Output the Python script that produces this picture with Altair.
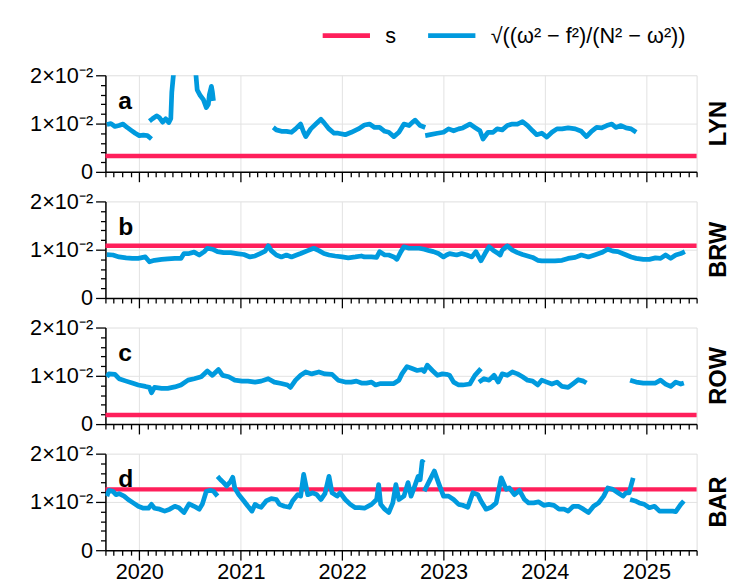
import altair as alt
import pandas as pd

RED = "#FF1F5B"
BLUE = "#009ADE"
FORMULA = "√((ω² − f²)/(N² − ω²))"
FONT = "Liberation Sans"

STATIONS = ["LYN", "BRW", "ROW", "BAR"]
LETTERS = ["a", "b", "c", "d"]
S_VALUES = [0.0033, 0.0108, 0.0019, 0.0126]

# decimal years / values, None marks a gap between segments
LYN_T = [2019.68, 2019.72, 2019.76, 2019.80, 2019.84, 2019.88, 2019.92, 2019.96, 2020.00, 2020.04, 2020.08, 2020.12, None,
         2020.10, 2020.13, 2020.17, 2020.20, 2020.23, 2020.26, 2020.29, 2020.31, 2020.32, 2020.34, 2020.38, 2020.45, 2020.50,
         2020.55, 2020.57, 2020.60, 2020.63, 2020.66, 2020.68, 2020.69, 2020.71, 2020.72, 2020.73, None,
         2021.32, 2021.35, 2021.40, 2021.45, 2021.50, 2021.54, 2021.59, 2021.62, 2021.64, 2021.69, 2021.74, 2021.79, 2021.82,
         2021.87, 2021.92, 2021.96, 2022.03, 2022.09, 2022.16, 2022.22, 2022.27, 2022.32, 2022.37, 2022.42, 2022.46, 2022.51,
         2022.56, 2022.61, 2022.66, 2022.69, 2022.72, 2022.77, 2022.82, None,
         2022.82, 2022.87, 2022.94, 2023.00, 2023.05, 2023.10, 2023.15, 2023.19, 2023.26, 2023.31, 2023.36, 2023.39, 2023.44,
         2023.49, 2023.53, 2023.58, 2023.63, 2023.68, 2023.73, 2023.78, 2023.83, 2023.88, 2023.92, 2023.97, 2024.02, 2024.07,
         2024.12, 2024.17, 2024.23, 2024.30, 2024.36, 2024.41, 2024.46, 2024.51, 2024.56, 2024.61, 2024.66, 2024.70, 2024.75,
         2024.80, 2024.85, 2024.90]
LYN_V = [0.0098, 0.0100, 0.0094, 0.0096, 0.0099, 0.0092, 0.0086, 0.0080, 0.0075, 0.0076, 0.0075, 0.0068, None,
         0.0105, 0.0110, 0.0116, 0.0112, 0.0103, 0.0110, 0.0102, 0.0110, 0.0165, 0.0210, 0.0260, 0.0300, 0.0270,
         0.0220, 0.0170, 0.0158, 0.0150, 0.0133, 0.0140, 0.0160, 0.0177, 0.0165, 0.0147, None,
         0.0092, 0.0087, 0.0084, 0.0084, 0.0082, 0.0089, 0.0099, 0.0082, 0.0073, 0.0089, 0.0099, 0.0109, 0.0102,
         0.0089, 0.0080, 0.0080, 0.0077, 0.0082, 0.0089, 0.0097, 0.0099, 0.0092, 0.0092, 0.0084, 0.0082, 0.0073,
         0.0082, 0.0099, 0.0096, 0.0102, 0.0107, 0.0096, 0.0092, None,
         0.0075, 0.0077, 0.0080, 0.0082, 0.0089, 0.0085, 0.0089, 0.0091, 0.0099, 0.0092, 0.0085, 0.0068, 0.0082,
         0.0082, 0.0089, 0.0087, 0.0096, 0.0099, 0.0099, 0.0104, 0.0096, 0.0085, 0.0077, 0.0080, 0.0072, 0.0082,
         0.0089, 0.0089, 0.0091, 0.0089, 0.0084, 0.0073, 0.0084, 0.0092, 0.0091, 0.0096, 0.0099, 0.0092, 0.0096,
         0.0091, 0.0089, 0.0082]

BRW_T = [2019.68, 2019.74, 2019.80, 2019.87, 2019.93, 2019.99, 2020.06, 2020.10, 2020.15, 2020.22, 2020.28, 2020.35,
         2020.41, 2020.44, 2020.49, 2020.54, 2020.59, 2020.64, 2020.67, 2020.72, 2020.77, 2020.83, 2020.90, 2020.96,
         2021.03, 2021.09, 2021.14, 2021.19, 2021.24, 2021.27, 2021.30, 2021.35, 2021.40, 2021.45, 2021.50, 2021.55,
         2021.59, 2021.66, 2021.72, 2021.77, 2021.82, 2021.87, 2021.93, 2022.00, 2022.06, 2022.13, 2022.19, 2022.22,
         2022.29, 2022.34, 2022.37, 2022.42, 2022.46, 2022.51, 2022.54, 2022.58, 2022.61, 2022.66, 2022.71, 2022.76,
         2022.81, 2022.86, 2022.90, 2022.95, 2023.00, 2023.03, 2023.06, 2023.13, 2023.18, 2023.23, 2023.28, 2023.32,
         2023.37, 2023.41, 2023.45, 2023.49, 2023.54, 2023.56, 2023.58, 2023.63, 2023.68, 2023.73, 2023.78, 2023.83,
         2023.88, 2023.93, 2023.97, 2024.04, 2024.10, 2024.17, 2024.23, 2024.30, 2024.36, 2024.43, 2024.49, 2024.56,
         2024.62, 2024.67, 2024.72, 2024.79, 2024.85, 2024.90, 2024.97, 2025.03, 2025.09, 2025.14, 2025.19, 2025.24,
         2025.29, 2025.34, 2025.38]
BRW_V = [0.0090, 0.0089, 0.0085, 0.0083, 0.0082, 0.0082, 0.0085, 0.0075, 0.0078, 0.0080, 0.0081, 0.0082,
         0.0082, 0.0092, 0.0092, 0.0095, 0.0089, 0.0096, 0.0103, 0.0101, 0.0096, 0.0094, 0.0094, 0.0092,
         0.0090, 0.0085, 0.0087, 0.0092, 0.0097, 0.0108, 0.0098, 0.0089, 0.0085, 0.0089, 0.0085, 0.0089,
         0.0092, 0.0098, 0.0103, 0.0098, 0.0092, 0.0089, 0.0087, 0.0085, 0.0083, 0.0085, 0.0087, 0.0085,
         0.0085, 0.0084, 0.0096, 0.0089, 0.0089, 0.0085, 0.0080, 0.0096, 0.0106, 0.0103, 0.0103, 0.0103,
         0.0101, 0.0098, 0.0096, 0.0092, 0.0085, 0.0089, 0.0092, 0.0089, 0.0092, 0.0089, 0.0085, 0.0096,
         0.0077, 0.0092, 0.0106, 0.0099, 0.0092, 0.0089, 0.0099, 0.0108, 0.0099, 0.0094, 0.0090, 0.0087,
         0.0084, 0.0078, 0.0077, 0.0077, 0.0077, 0.0078, 0.0082, 0.0084, 0.0089, 0.0085, 0.0089, 0.0094,
         0.0101, 0.0097, 0.0096, 0.0090, 0.0085, 0.0082, 0.0080, 0.0080, 0.0083, 0.0082, 0.0089, 0.0082,
         0.0089, 0.0092, 0.0096]

ROW_T = [2019.68, 2019.70, 2019.76, 2019.80, 2019.87, 2019.93, 2019.99, 2020.06, 2020.10, 2020.12, 2020.15, 2020.22,
         2020.28, 2020.35, 2020.41, 2020.48, 2020.54, 2020.61, 2020.67, 2020.72, 2020.78, 2020.82, 2020.88, 2020.94,
         2021.01, 2021.07, 2021.14, 2021.20, 2021.27, 2021.33, 2021.40, 2021.46, 2021.49, 2021.54, 2021.59, 2021.64,
         2021.70, 2021.77, 2021.83, 2021.90, 2021.96, 2022.03, 2022.09, 2022.14, 2022.19, 2022.24, 2022.29, 2022.33,
         2022.38, 2022.45, 2022.51, 2022.56, 2022.59, 2022.64, 2022.69, 2022.74, 2022.79, 2022.81, 2022.84, 2022.89,
         2022.94, 2022.99, 2023.03, 2023.06, 2023.10, 2023.15, 2023.19, 2023.26, 2023.31, 2023.37, None,
         2023.35, 2023.40, 2023.45, 2023.50, 2023.54, 2023.58, 2023.63, 2023.68, 2023.73, 2023.78, 2023.83, 2023.88,
         2023.93, 2023.97, 2024.02, 2024.07, 2024.12, 2024.17, 2024.23, 2024.28, 2024.33, 2024.38, 2024.41, None,
         2024.84, 2024.90, 2024.97, 2025.03, 2025.09, 2025.14, 2025.19, 2025.24, 2025.29, 2025.34, 2025.37]
ROW_V = [0.0098, 0.0104, 0.0103, 0.0094, 0.0089, 0.0085, 0.0081, 0.0078, 0.0076, 0.0065, 0.0076, 0.0074,
         0.0074, 0.0077, 0.0081, 0.0091, 0.0094, 0.0098, 0.0110, 0.0101, 0.0113, 0.0101, 0.0098, 0.0091,
         0.0089, 0.0089, 0.0087, 0.0089, 0.0094, 0.0087, 0.0084, 0.0081, 0.0076, 0.0091, 0.0101, 0.0108,
         0.0104, 0.0108, 0.0104, 0.0103, 0.0091, 0.0087, 0.0087, 0.0089, 0.0085, 0.0085, 0.0087, 0.0081,
         0.0084, 0.0084, 0.0084, 0.0091, 0.0104, 0.0119, 0.0115, 0.0111, 0.0113, 0.0109, 0.0122, 0.0111,
         0.0101, 0.0104, 0.0103, 0.0101, 0.0087, 0.0081, 0.0081, 0.0083, 0.0101, 0.0115, None,
         0.0087, 0.0094, 0.0091, 0.0101, 0.0087, 0.0104, 0.0101, 0.0108, 0.0104, 0.0098, 0.0091, 0.0089,
         0.0081, 0.0091, 0.0087, 0.0083, 0.0087, 0.0078, 0.0076, 0.0084, 0.0092, 0.0089, 0.0085, None,
         0.0091, 0.0087, 0.0085, 0.0085, 0.0085, 0.0091, 0.0083, 0.0078, 0.0087, 0.0083, 0.0085]

BAR_T = [2019.68, 2019.70, 2019.74, 2019.77, 2019.80, 2019.85, 2019.89, 2019.94, 2019.99, 2020.04, 2020.09, 2020.12,
         2020.15, 2020.20, 2020.25, 2020.30, 2020.35, 2020.39, 2020.44, 2020.49, 2020.54, 2020.59, 2020.62, 2020.66,
         2020.70, 2020.73, 2020.77, None,
         2020.77, 2020.80, 2020.83, 2020.86, 2020.90, 2020.92, 2020.94, 2020.98, 2021.03, 2021.07, 2021.11, 2021.14,
         2021.17, 2021.20, 2021.25, 2021.30, 2021.35, 2021.38, 2021.43, 2021.48, 2021.51, 2021.56, 2021.59, 2021.62,
         2021.66, 2021.71, 2021.75, 2021.79, 2021.83, 2021.87, 2021.90, 2021.95, 2021.98, 2022.03, 2022.08, 2022.13,
         2022.17, 2022.22, 2022.29, 2022.34, 2022.36, 2022.38, 2022.42, 2022.46, 2022.50, 2022.53, 2022.56, 2022.61,
         2022.65, 2022.68, 2022.71, 2022.75, 2022.77, 2022.79, 2022.81, None,
         2022.81, 2022.86, 2022.91, 2022.95, 2023.00, 2023.05, 2023.10, 2023.15, 2023.19, 2023.24, 2023.29, 2023.34,
         2023.37, 2023.42, 2023.47, 2023.52, 2023.57, 2023.62, 2023.65, 2023.70, 2023.75, 2023.80, 2023.84, 2023.89,
         2023.94, 2023.99, 2024.04, 2024.09, 2024.14, 2024.19, 2024.23, 2024.28, 2024.33, 2024.38, 2024.43, 2024.48,
         2024.53, 2024.58, 2024.62, 2024.67, 2024.72, 2024.77, 2024.80, 2024.83, 2024.87, None,
         2024.84, 2024.89, 2024.93, 2024.98, 2025.03, 2025.08, 2025.13, 2025.19, 2025.26, 2025.29, 2025.34, 2025.37]
BAR_V = [0.0112, 0.0124, 0.0122, 0.0115, 0.0117, 0.0112, 0.0105, 0.0098, 0.0091, 0.0087, 0.0087, 0.0095,
         0.0087, 0.0085, 0.0081, 0.0085, 0.0091, 0.0088, 0.0078, 0.0096, 0.0091, 0.0085, 0.0095, 0.0122,
         0.0124, 0.0122, 0.0112, None,
         0.0153, 0.0146, 0.0140, 0.0133, 0.0143, 0.0151, 0.0129, 0.0115, 0.0102, 0.0091, 0.0081, 0.0095,
         0.0091, 0.0089, 0.0102, 0.0107, 0.0105, 0.0095, 0.0091, 0.0089, 0.0102, 0.0115, 0.0112, 0.0157,
         0.0115, 0.0119, 0.0115, 0.0105, 0.0117, 0.0153, 0.0119, 0.0112, 0.0119, 0.0105, 0.0095, 0.0088,
         0.0088, 0.0087, 0.0095, 0.0105, 0.0136, 0.0095, 0.0085, 0.0078, 0.0098, 0.0136, 0.0105, 0.0112,
         0.0140, 0.0112, 0.0129, 0.0153, 0.0146, 0.0184, 0.0181, None,
         0.0122, 0.0143, 0.0164, 0.0140, 0.0112, 0.0112, 0.0105, 0.0095, 0.0093, 0.0089, 0.0119, 0.0115,
         0.0102, 0.0085, 0.0089, 0.0098, 0.0150, 0.0126, 0.0129, 0.0115, 0.0124, 0.0105, 0.0098, 0.0098,
         0.0100, 0.0093, 0.0095, 0.0093, 0.0085, 0.0085, 0.0081, 0.0091, 0.0091, 0.0085, 0.0078, 0.0091,
         0.0098, 0.0112, 0.0129, 0.0126, 0.0119, 0.0112, 0.0119, 0.0119, 0.0150, None,
         0.0105, 0.0102, 0.0098, 0.0095, 0.0088, 0.0091, 0.0081, 0.0081, 0.0081, 0.0080, 0.0095, 0.0102]

SERIES_T = [LYN_T, BRW_T, ROW_T, BAR_T]
SERIES_V = [LYN_V, BRW_V, ROW_V, BAR_V]


def to_date(y):
    yr = int(y)
    start = pd.Timestamp(yr, 1, 1)
    end = pd.Timestamp(yr + 1, 1, 1)
    return start + (end - start) * (y - yr)


def build_frame(ts, vs):
    rows = []
    seg = 0
    for t, v in zip(ts, vs):
        if t is None:
            seg += 1
            continue
        rows.append({"date": to_date(t), "value": v, "seg": seg, "series": FORMULA})
    return pd.DataFrame(rows)


MONTHS = []
for y in range(2019, 2026):
    for m in range(1, 13):
        if (y == 2019 and m < 9) or (y == 2025 and m > 7):
            continue
        MONTHS.append(alt.DateTime(year=y, month=m, date=1))

YVALS = [round(i * 0.002, 3) for i in range(11)]

x_scale = alt.Scale(domain=[alt.DateTime(year=2019, month=9, date=1),
                            alt.DateTime(year=2025, month=7, date=1)])
y_scale = alt.Scale(domain=[0, 0.02], nice=False, zero=True)

W, H = 600, 98


def x_axis(show_labels):
    return alt.Axis(
        values=MONTHS, title=None, labels=show_labels,
        labelExpr="month(datum.value) == 0 ? timeFormat(datum.value, '%Y') : ''",
        tickSize={"condition": {"test": "month(datum.value) == 0", "value": 10}, "value": 5},
        gridOpacity={"condition": {"test": "month(datum.value) == 0", "value": 1}, "value": 0},
        grid=True, gridColor="#e2e2e2", gridWidth=1,
        tickColor="black", tickWidth=1.3, domainColor="black", domainWidth=1.5,
        labelFont=FONT, labelFontSize=22, labelColor="black", labelPadding=2,
        labelOverlap=False, labelFlush=False,
    )


y_axis = alt.Axis(
    values=YVALS, title=None,
    labelExpr="datum.value == 0 ? '0' : (abs(datum.value - 0.01) < 1e-9 ? '1×10⁻²' : (abs(datum.value - 0.02) < 1e-9 ? '2×10⁻²' : ''))",
    tickSize={"condition": {"test": "abs(datum.value * 100 - round(datum.value * 100)) < 0.001", "value": 10}, "value": 5},
    gridOpacity={"condition": {"test": "abs(datum.value - 0.01) < 1e-9", "value": 1}, "value": 0},
    grid=True, gridColor="#e2e2e2", gridWidth=1,
    tickColor="black", tickWidth=1.3, domainColor="black", domainWidth=1.5,
    labelFont=FONT, labelFontSize=22, labelColor="black", labelPadding=3,
    labelOverlap=False, labelFlush=False,
)

color_scale = alt.Scale(domain=["s", FORMULA], range=[RED, BLUE])

panels = []
for i, st in enumerate(STATIONS):
    df = build_frame(SERIES_T[i], SERIES_V[i])
    red_df = pd.DataFrame({"value": [S_VALUES[i]], "series": ["s"]})
    lab_df = pd.DataFrame({"letter": [LETTERS[i]], "station": [st]})

    if i == 0:
        legend = alt.Legend(
            orient="none", legendX=218, legendY=-67, direction="horizontal", title=None,
            symbolType="stroke", symbolSize=2304, symbolStrokeWidth=5,
            labelFont=FONT, labelFontSize=22, labelColor="black", labelLimit=0,
            columnPadding=22, labelOffset=13,
        )
        blue_color = alt.Color("series:N", scale=color_scale, legend=legend)
        red_color = alt.Color("series:N", scale=color_scale, legend=legend)
    else:
        blue_color = alt.value(BLUE)
        red_color = alt.value(RED)

    red = alt.Chart(red_df).mark_rule(strokeWidth=4.5).encode(
        y=alt.Y("value:Q", scale=y_scale, axis=y_axis),
        color=red_color,
    )
    blue = alt.Chart(df).mark_line(strokeWidth=4.8, clip=True, strokeJoin="round").encode(
        x=alt.X("date:T", scale=x_scale, axis=x_axis(i == 3)),
        y=alt.Y("value:Q", scale=y_scale, axis=y_axis),
        detail="seg:N",
        color=blue_color,
    )
    letter = alt.Chart(lab_df).mark_text(
        font=FONT, fontSize=25, fontWeight="bold", align="left", baseline="alphabetic", color="black"
    ).encode(x=alt.value(13), y=alt.value(34), text="letter:N")
    station = alt.Chart(lab_df).mark_text(
        font=FONT, fontSize=24, fontWeight="bold", align="center", baseline="middle", angle=270, color="black"
    ).encode(x=alt.value(W + 23), y=alt.value(H / 2), text="station:N")

    panels.append(alt.layer(red, blue, letter, station).properties(width=W, height=H))

chart = alt.vconcat(*panels, spacing=30, bounds="flush").properties(
    padding={"left": 29, "top": 5, "right": 5, "bottom": 5}
).configure_view(stroke="black", strokeWidth=1.5).configure(background="white")

chart.save("out.html", embed_options={"renderer": "svg", "actions": False})
